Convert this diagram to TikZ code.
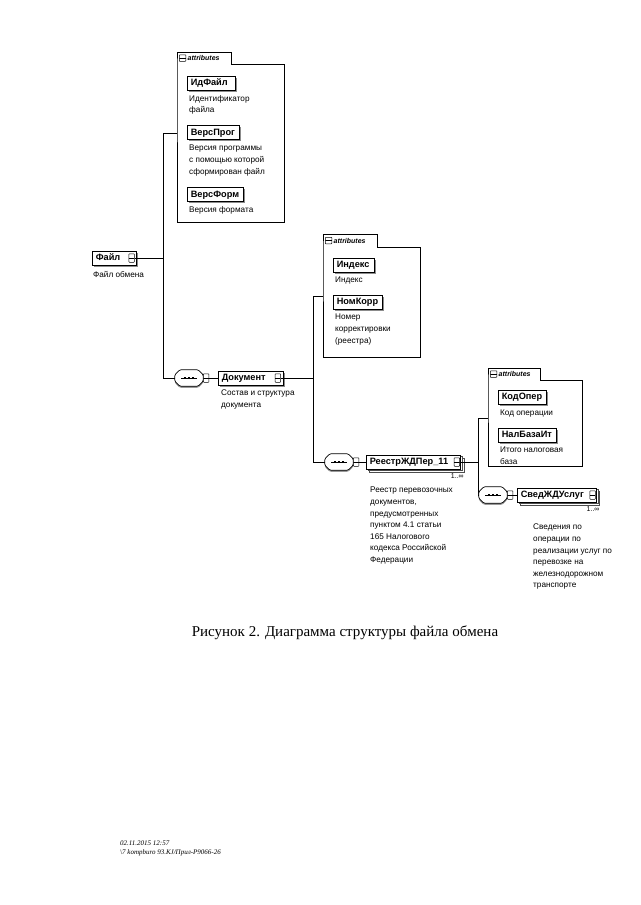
\documentclass[tikz,border=0pt]{standalone}
\usepackage{fontspec}
\setmainfont{Liberation Serif}
\setsansfont{Liberation Sans}
\usetikzlibrary{shadows}
\tikzset{
  shadowed/.style={preaction={fill=black!45, transform canvas={xshift=1.6pt, yshift=-1.6pt}}},
  elem/.style={draw, fill=white, anchor=west, line width=.6pt, font=\sffamily\bfseries\fontsize{9.2}{10}\selectfont,
    inner xsep=3.5pt, inner ysep=0pt, minimum height=14pt, text height=6.8pt, text depth=1.8pt, shadowed},
  multi/.style={draw, fill=white, anchor=west, line width=.6pt, font=\sffamily\bfseries\fontsize{9.2}{10}\selectfont,
    inner xsep=3.5pt, inner ysep=0pt, minimum height=14pt, text height=6.8pt, text depth=1.8pt,
    double copy shadow={shadow xshift=1.7pt, shadow yshift=-1.7pt, draw=black!70, fill=white}},
  desc/.style={anchor=north west, align=left, inner sep=0pt, font=\sffamily\fontsize{8.2}{11.6}\selectfont},
  icon/.style={draw, fill=white, minimum width=5.5pt, minimum height=8.5pt, inner sep=0pt, line width=.5pt,
    rounded corners=.6pt,
    path picture={\draw[line width=.5pt] (path picture bounding box.west) -- (path picture bounding box.east);}},
  comp/.style={draw=none, minimum width=28pt, minimum height=16pt, inner sep=0pt},
  compline/.style={line width=.7pt, fill=white, rounded corners=1.2pt,
    preaction={fill=black!40, transform canvas={yshift=-1.6pt}}},
  attrbody/.style={draw=none, inner sep=0pt, anchor=north west},
  attrline/.style={line width=.7pt},
  tabtext/.style={anchor=west, inner sep=0pt, font=\sffamily\bfseries\itshape\fontsize{7}{8}\selectfont},
  mult/.style={anchor=north east, inner sep=0pt, font=\sffamily\fontsize{7}{8}\selectfont},
  conn/.style={line width=.7pt},
}
\newcommand\drawcomp[1]{%
  \draw[compline] ([xshift=5pt]#1.north west) -- ([xshift=-5pt]#1.north east) -- ([yshift=-5pt]#1.north east)
    -- ([yshift=5pt]#1.south east) -- ([xshift=-5pt]#1.south east) -- ([xshift=5pt]#1.south west)
    -- ([yshift=5pt]#1.south west) -- ([yshift=-5pt]#1.north west) -- cycle;
  \draw[line width=.7pt] ([xshift=-8pt]#1.center) -- ([xshift=8pt]#1.center);
  \foreach \dx in {-4,0,4}{\fill ([xshift=\dx pt]#1.center) ++(-1.1pt,-1.1pt) rectangle ++(2.2pt,2.2pt);}%
}
\begin{document}
\begin{tikzpicture}[x=1pt,y=-1pt]
\useasboundingbox (0,0) rectangle (640,905);

% ---------- attribute group 1 ----------
\node[attrbody, minimum width=107pt, minimum height=158pt] (ab1) at (177,64) {};
\draw[attrline] (ab1.north west) -- ++(0,-12) -- ++(54,0) -- ++(0,12) -- (ab1.north east) -- (ab1.south east) -- (ab1.south west) -- cycle;
\node[icon, minimum width=6.5pt, minimum height=6.5pt] (ab1m) at (182.5,58) {};
\node[tabtext] (ab1l) at (187.5,58) {attributes};
\node[elem] (idf) at (187,83) {ИдФайл\hspace*{4pt}};
\node[desc] (idfd) at (189,95) {Идентификатор\\файла};
\node[elem] (vprog) at (187,132.5) {ВерсПрог\hspace*{1pt}};
\node[desc] (vprogd) at (189,145) {Версия программы\\с помощью которой\\сформирован файл};
\node[elem] (vform) at (187,194.5) {ВерсФорм\hspace*{1pt}};
\node[desc] (vformd) at (189,206) {Версия формата};

% ---------- root ----------
\node[elem] (file) at (92,258) {Файл\hspace*{13pt}};
\node[icon] (filei) at ([xshift=-5.5pt]file.east) {};
\node[desc] (filed) at (93,271) {Файл обмена};
\coordinate (v1a) at (163,133);
\coordinate (v1b) at (163,378);
\draw[conn] (filei.east) -- (v1a |- filei.east);
\draw[conn] (ab1.west |- v1a) -- (v1a) -- (v1b);

% ---------- Документ ----------
\node[comp] (c1) at (189,378) {};
\drawcomp{c1}
\node[icon] (c1i) at ([xshift=3pt]c1.east) {};
\draw[conn] (v1b) -- (c1.west);
\node[elem] (doc) at (218,378) {Документ\hspace*{14pt}};
\node[icon] (doci) at ([xshift=-5.5pt]doc.east) {};
\draw[conn] (c1i.east) -- (doc.west);
\node[desc] (docd) at (221,390) {Состав и структура\\документа};
\coordinate (v2a) at (313,296);
\coordinate (v2b) at (313,462);
\draw[conn] (doci.east) -- (v2a |- doci.east);

% ---------- attribute group 2 ----------
\node[attrbody, minimum width=97pt, minimum height=110pt] (ab2) at (323,247) {};
\draw[attrline] (ab2.north west) -- ++(0,-13) -- ++(54,0) -- ++(0,13) -- (ab2.north east) -- (ab2.south east) -- (ab2.south west) -- cycle;
\node[icon, minimum width=6.5pt, minimum height=6.5pt] (ab2m) at (328.5,240.5) {};
\node[tabtext] (ab2l) at (333.5,240.5) {attributes};
\node[elem] (ind) at (333,265) {Индекс\hspace*{1pt}};
\node[desc] (indd) at (335,277) {Индекс};
\node[elem] (nkorr) at (333,302) {НомКорр\hspace*{1pt}};
\node[desc] (nkorrd) at (335,314) {Номер\\корректировки\\(реестра)};
\draw[conn] (ab2.west |- v2a) -- (v2a) -- (v2b);

% ---------- РеестрЖДПер_11 ----------
\node[comp] (c2) at (339,462) {};
\drawcomp{c2}
\node[icon] (c2i) at ([xshift=3pt]c2.east) {};
\draw[conn] (v2b) -- (c2.west);
\node[multi] (reestr) at (366,462) {РеестрЖДПер\_11\hspace*{9pt}};
\node[icon] (reestri) at ([xshift=-4pt]reestr.east) {};
\draw[conn] (c2i.east) -- (reestr.west);
\node[mult] (reestrm) at ([xshift=3pt,yshift=-4pt]reestr.south east) {1..∞};
\node[desc] (reestrd) at (370,487) {Реестр перевозочных\\документов,\\предусмотренных\\пунктом 4.1 статьи\\165 Налогового\\кодекса Российской\\Федерации};
\coordinate (v3a) at (478,418);
\coordinate (v3b) at (478,495);
\draw[conn] (reestri.east) -- (v3a |- reestri.east);

% ---------- attribute group 3 ----------
\node[attrbody, minimum width=94pt, minimum height=86pt] (ab3) at (488,380) {};
\draw[attrline] (ab3.north west) -- ++(0,-12) -- ++(52,0) -- ++(0,12) -- (ab3.north east) -- (ab3.south east) -- (ab3.south west) -- cycle;
\node[icon, minimum width=6.5pt, minimum height=6.5pt] (ab3m) at (493.5,374) {};
\node[tabtext] (ab3l) at (498.5,374) {attributes};
\node[elem] (kod) at (498,397) {КодОпер\hspace*{1pt}};
\node[desc] (kodd) at (500,410) {Код операции};
\node[elem] (nalb) at (498,435) {НалБазаИт\hspace*{1pt}};
\node[desc] (nalbd) at (500,447) {Итого налоговая\\база};
\draw[conn] (ab3.west |- v3a) -- (v3a) -- (v3b);

% ---------- СведЖДУслуг ----------
\node[comp] (c3) at (493,495) {};
\drawcomp{c3}
\node[icon] (c3i) at ([xshift=3pt]c3.east) {};
\draw[conn] (v3b) -- (c3.west);
\node[multi] (sved) at (517,495) {СведЖДУслуг\hspace*{9pt}};
\node[icon] (svedi) at ([xshift=-4pt]sved.east) {};
\draw[conn] (c3i.east) -- (sved.west);
\node[mult] (svedm) at ([xshift=3pt,yshift=-4pt]sved.south east) {1..∞};
\node[desc] (svedd) at (533,524) {Сведения по\\операции по\\реализации услуг по\\перевозке на\\железнодорожном\\транспорте};

% ---------- caption and footer ----------
\node[font=\fontsize{15}{18}\selectfont, inner sep=0pt] (cap) at (345,633) {Рисунок 2. Диаграмма структуры файла обмена};
\node[anchor=north west, align=left, inner sep=0pt, font=\itshape\fontsize{7}{8.5}\selectfont] (foot) at (120,841) {02.11.2015 12:57\\\textbackslash7 kompburo 93.KJ/Прил-Р9066-26};
\end{tikzpicture}
\end{document}
